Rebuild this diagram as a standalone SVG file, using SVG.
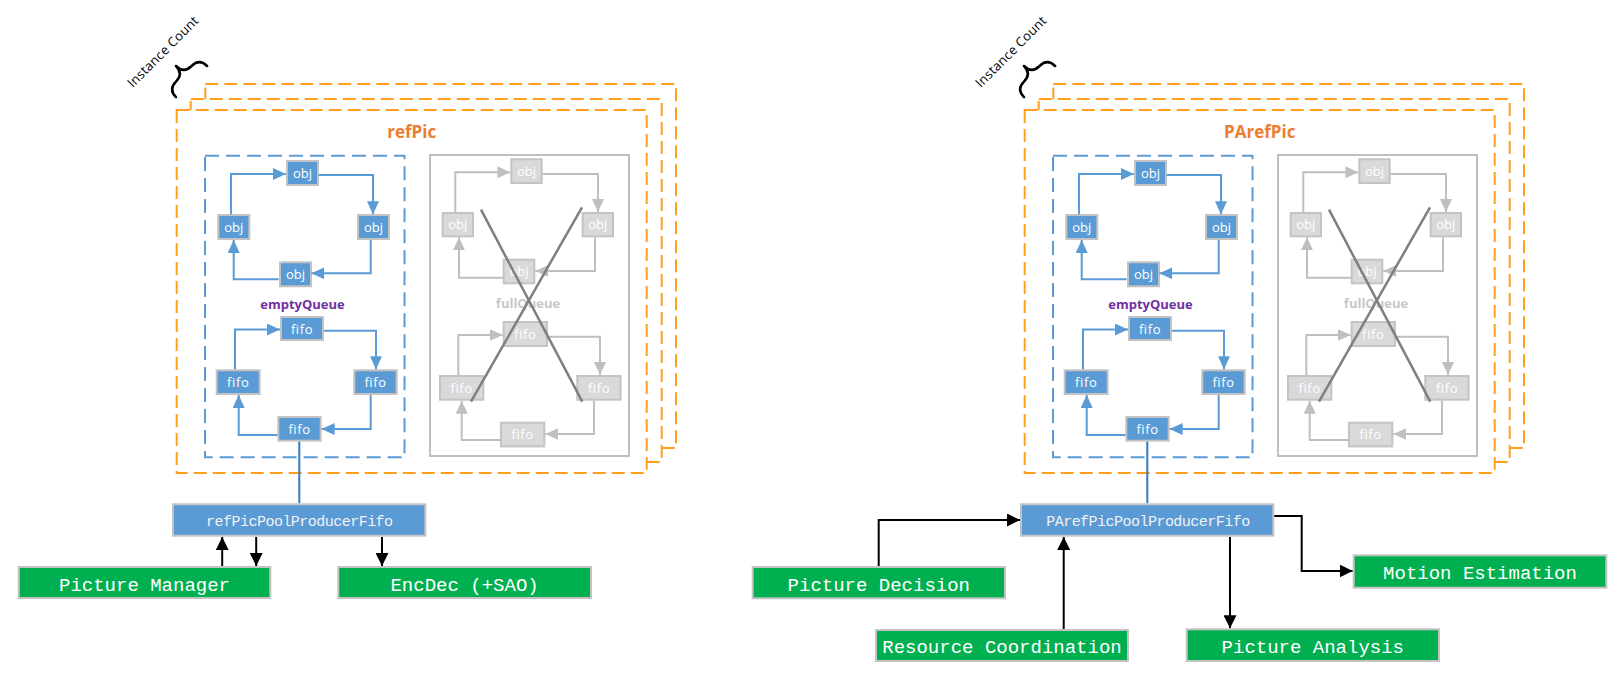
<svg xmlns="http://www.w3.org/2000/svg" width="1619" height="674" viewBox="0 0 1619 674">
<style>
.inst{fill:#fff;stroke:#FF9F1C;stroke-width:2;stroke-dasharray:13 6}
.eq{fill:none;stroke:#5B9BD5;stroke-width:2;stroke-dasharray:14 7}
.fq{fill:none;stroke:#BFBFBF;stroke-width:2}
.bn{fill:#5B9BD5;stroke:#C3C3C3;stroke-width:2}
.gn{fill:#D9D9D9;stroke:#C3C3C3;stroke-width:2}
.nt{font-family:"Open Sans","Noto Sans",sans-serif;font-size:13px;fill:#fff;text-anchor:middle}
.bc{fill:none;stroke:#5B9BD5;stroke-width:2;marker-end:url(#ab)}
.gc{fill:none;stroke:#BFBFBF;stroke-width:2;marker-end:url(#ag)}
.kc{fill:none;stroke:#000;stroke-width:2;marker-end:url(#ak)}
.xl{stroke:#7F7F7F;stroke-width:2.5}
.ttl{font-family:"Open Sans","Noto Sans",sans-serif;font-size:17px;font-weight:bold;fill:#ED7D31;text-anchor:middle}
.ql{font-family:"Open Sans","Noto Sans",sans-serif;font-size:13px;font-weight:bold;text-anchor:middle}
.green{fill:#00B050;stroke:#C3C3C3;stroke-width:2}
.gt{font-family:"Liberation Mono","DejaVu Sans Mono",monospace;font-size:19px;fill:#fff;text-anchor:middle}
.prod{fill:#5B9BD5;stroke:#C3C3C3;stroke-width:2}
.pt{font-family:"Liberation Mono","DejaVu Sans Mono",monospace;font-size:15px;fill:#F2F2F2;text-anchor:middle}
.ic{font-family:"Open Sans","Noto Sans",sans-serif;font-size:13px;fill:#000;text-anchor:middle;dominant-baseline:central}
.brace{fill:none;stroke:#000;stroke-width:2.5;stroke-linecap:round;stroke-linejoin:round}
.link{stroke:#2F7BC6;stroke-width:2}
</style>
<defs>
<marker id="ab" markerUnits="userSpaceOnUse" markerWidth="13" markerHeight="12" refX="13" refY="6" orient="auto" viewBox="0 0 13 12"><path d="M0,0 L13,6 L0,12 z" fill="#5B9BD5"/></marker>
<marker id="ag" markerUnits="userSpaceOnUse" markerWidth="13" markerHeight="12" refX="13" refY="6" orient="auto" viewBox="0 0 13 12"><path d="M0,0 L13,6 L0,12 z" fill="#BFBFBF"/></marker>
<marker id="ak" markerUnits="userSpaceOnUse" markerWidth="13" markerHeight="13" refX="13" refY="6.5" orient="auto" viewBox="0 0 13 13"><path d="M0,0 L13,6.5 L0,13 z" fill="#000"/></marker>
<path id="brace-shape" d="M22,-22 Q11,-22 11,-11 Q11,0 0,0 Q11,0 11,11 Q11,22 22,22"/>
</defs>

<g id="refpic-panel">
  <g id="refpic-instances">
    <rect class="inst" x="205.3" y="84" width="470.7" height="364"/>
    <rect class="inst" x="190.7" y="99" width="471" height="363"/>
    <rect class="inst" x="176.7" y="110" width="470" height="363"/>
  </g>
  <text class="ttl" x="411.7" y="138">refPic</text>
  <g id="refpic-instance-count">
    <use href="#brace-shape" class="brace" transform="translate(176,66) rotate(45)"/>
    <text class="ic" x="162.5" y="51.4" transform="rotate(-45 162.5 51.4)" textLength="94">Instance Count</text>
  </g>

  <g id="refpic-emptyQueue">
    <rect class="eq" x="205" y="155.7" width="199.5" height="301.6"/>
    <text class="ql" x="302.5" y="309" fill="#7030A0">emptyQueue</text>
    <g id="refpic-eq-obj1"><rect class="bn" x="287" y="161" width="31" height="24"/><text class="nt" x="302.5" y="177.5">obj</text></g>
    <g id="refpic-eq-obj2"><rect class="bn" x="358" y="215" width="31" height="24"/><text class="nt" x="373.5" y="231.5">obj</text></g>
    <g id="refpic-eq-obj3"><rect class="bn" x="280" y="262.3" width="31" height="24"/><text class="nt" x="295.5" y="278.8">obj</text></g>
    <g id="refpic-eq-obj4"><rect class="bn" x="218.3" y="215" width="31" height="24"/><text class="nt" x="233.8" y="231.5">obj</text></g>
    <g id="refpic-eq-fifo1"><rect class="bn" x="281" y="317" width="42" height="23"/><text class="nt" x="302" y="333.5" letter-spacing="0.6">fifo</text></g>
    <g id="refpic-eq-fifo2"><rect class="bn" x="354.3" y="370.3" width="42.4" height="23.7"/><text class="nt" x="375.5" y="387" letter-spacing="0.6">fifo</text></g>
    <g id="refpic-eq-fifo3"><rect class="bn" x="278.3" y="417" width="42.4" height="23.7"/><text class="nt" x="299.5" y="433.7" letter-spacing="0.6">fifo</text></g>
    <g id="refpic-eq-fifo4"><rect class="bn" x="216.7" y="370.3" width="43" height="23.7"/><text class="nt" x="238.2" y="387" letter-spacing="0.6">fifo</text></g>
  </g>

  <g id="refpic-fullQueue">
    <rect class="fq" x="430" y="155" width="199" height="301"/>
    <text class="ql" x="528" y="307.7" fill="#C8C8C8">fullQueue</text>
    <g id="refpic-fq-obj1"><rect class="gn" x="511.3" y="159.3" width="30.4" height="23.7"/><text class="nt" x="526.5" y="175.6">obj</text></g>
    <g id="refpic-fq-obj2"><rect class="gn" x="582.7" y="213" width="30.3" height="23.3"/><text class="nt" x="597.8" y="229.3">obj</text></g>
    <g id="refpic-fq-obj3"><rect class="gn" x="503.7" y="259.7" width="30.6" height="23.6"/><text class="nt" x="519" y="276">obj</text></g>
    <g id="refpic-fq-obj4"><rect class="gn" x="442.7" y="213" width="30.3" height="23.3"/><text class="nt" x="457.8" y="229.3">obj</text></g>
    <g id="refpic-fq-fifo1"><rect class="gn" x="503.7" y="322" width="43.3" height="24"/><text class="nt" x="525.3" y="338.7" letter-spacing="0.6">fifo</text></g>
    <g id="refpic-fq-fifo2"><rect class="gn" x="577.3" y="376" width="43.3" height="23.7"/><text class="nt" x="599" y="392.6" letter-spacing="0.6">fifo</text></g>
    <g id="refpic-fq-fifo3"><rect class="gn" x="501" y="422.7" width="43.3" height="23.7"/><text class="nt" x="522.6" y="439.3" letter-spacing="0.6">fifo</text></g>
    <g id="refpic-fq-fifo4"><rect class="gn" x="440" y="376" width="43.3" height="23.7"/><text class="nt" x="461.6" y="392.6" letter-spacing="0.6">fifo</text></g>
  </g>

  <g id="refpic-connectors">
    <path class="bc" d="M231,214.3 V174 H286"/>
    <path class="bc" d="M318.7,175 H373 V214.3"/>
    <path class="bc" d="M370.7,240 V273.3 H311.3"/>
    <path class="bc" d="M278.7,279.3 H233.7 V240"/>
    <path class="bc" d="M235,369.3 V329.5 H280"/>
    <path class="bc" d="M324,330.7 H376 V369.3"/>
    <path class="bc" d="M370.7,395 V429 H321.7"/>
    <path class="bc" d="M277.3,435 H238.7 V395"/>
    <path class="gc" d="M455.3,212 V172.3 H510.3"/>
    <path class="gc" d="M542.7,174 H598 V212"/>
    <path class="gc" d="M595,237.3 V271 H535.3"/>
    <path class="gc" d="M502.7,277.7 H459 V237.3"/>
    <path class="gc" d="M458.3,375 V335 H502.7"/>
    <path class="gc" d="M548,336.7 H600 V375"/>
    <path class="gc" d="M594,400.7 V434 H545.3"/>
    <path class="gc" d="M500,440 H461.7 V400.7"/>
    <line class="xl" x1="471" y1="401.7" x2="582" y2="207.3"/>
    <line class="xl" x1="481" y1="209.7" x2="582.3" y2="401.7"/>
  </g>
</g>

<g id="arefpic-panel" transform="translate(848,0)">
  <g id="arefpic-instances">
    <rect class="inst" x="205.3" y="84" width="470.7" height="364"/>
    <rect class="inst" x="190.7" y="99" width="471" height="363"/>
    <rect class="inst" x="176.7" y="110" width="470" height="363"/>
  </g>
  <text class="ttl" x="411.7" y="138">PArefPic</text>
  <g id="arefpic-instance-count">
    <use href="#brace-shape" class="brace" transform="translate(176,66) rotate(45)"/>
    <text class="ic" x="162.5" y="51.4" transform="rotate(-45 162.5 51.4)" textLength="94">Instance Count</text>
  </g>

  <g id="arefpic-emptyQueue">
    <rect class="eq" x="205" y="155.7" width="199.5" height="301.6"/>
    <text class="ql" x="302.5" y="309" fill="#7030A0">emptyQueue</text>
    <g id="arefpic-eq-obj1"><rect class="bn" x="287" y="161" width="31" height="24"/><text class="nt" x="302.5" y="177.5">obj</text></g>
    <g id="arefpic-eq-obj2"><rect class="bn" x="358" y="215" width="31" height="24"/><text class="nt" x="373.5" y="231.5">obj</text></g>
    <g id="arefpic-eq-obj3"><rect class="bn" x="280" y="262.3" width="31" height="24"/><text class="nt" x="295.5" y="278.8">obj</text></g>
    <g id="arefpic-eq-obj4"><rect class="bn" x="218.3" y="215" width="31" height="24"/><text class="nt" x="233.8" y="231.5">obj</text></g>
    <g id="arefpic-eq-fifo1"><rect class="bn" x="281" y="317" width="42" height="23"/><text class="nt" x="302" y="333.5" letter-spacing="0.6">fifo</text></g>
    <g id="arefpic-eq-fifo2"><rect class="bn" x="354.3" y="370.3" width="42.4" height="23.7"/><text class="nt" x="375.5" y="387" letter-spacing="0.6">fifo</text></g>
    <g id="arefpic-eq-fifo3"><rect class="bn" x="278.3" y="417" width="42.4" height="23.7"/><text class="nt" x="299.5" y="433.7" letter-spacing="0.6">fifo</text></g>
    <g id="arefpic-eq-fifo4"><rect class="bn" x="216.7" y="370.3" width="43" height="23.7"/><text class="nt" x="238.2" y="387" letter-spacing="0.6">fifo</text></g>
  </g>

  <g id="arefpic-fullQueue">
    <rect class="fq" x="430" y="155" width="199" height="301"/>
    <text class="ql" x="528" y="307.7" fill="#C8C8C8">fullQueue</text>
    <g id="arefpic-fq-obj1"><rect class="gn" x="511.3" y="159.3" width="30.4" height="23.7"/><text class="nt" x="526.5" y="175.6">obj</text></g>
    <g id="arefpic-fq-obj2"><rect class="gn" x="582.7" y="213" width="30.3" height="23.3"/><text class="nt" x="597.8" y="229.3">obj</text></g>
    <g id="arefpic-fq-obj3"><rect class="gn" x="503.7" y="259.7" width="30.6" height="23.6"/><text class="nt" x="519" y="276">obj</text></g>
    <g id="arefpic-fq-obj4"><rect class="gn" x="442.7" y="213" width="30.3" height="23.3"/><text class="nt" x="457.8" y="229.3">obj</text></g>
    <g id="arefpic-fq-fifo1"><rect class="gn" x="503.7" y="322" width="43.3" height="24"/><text class="nt" x="525.3" y="338.7" letter-spacing="0.6">fifo</text></g>
    <g id="arefpic-fq-fifo2"><rect class="gn" x="577.3" y="376" width="43.3" height="23.7"/><text class="nt" x="599" y="392.6" letter-spacing="0.6">fifo</text></g>
    <g id="arefpic-fq-fifo3"><rect class="gn" x="501" y="422.7" width="43.3" height="23.7"/><text class="nt" x="522.6" y="439.3" letter-spacing="0.6">fifo</text></g>
    <g id="arefpic-fq-fifo4"><rect class="gn" x="440" y="376" width="43.3" height="23.7"/><text class="nt" x="461.6" y="392.6" letter-spacing="0.6">fifo</text></g>
  </g>

  <g id="arefpic-connectors">
    <path class="bc" d="M231,214.3 V174 H286"/>
    <path class="bc" d="M318.7,175 H373 V214.3"/>
    <path class="bc" d="M370.7,240 V273.3 H311.3"/>
    <path class="bc" d="M278.7,279.3 H233.7 V240"/>
    <path class="bc" d="M235,369.3 V329.5 H280"/>
    <path class="bc" d="M324,330.7 H376 V369.3"/>
    <path class="bc" d="M370.7,395 V429 H321.7"/>
    <path class="bc" d="M277.3,435 H238.7 V395"/>
    <path class="gc" d="M455.3,212 V172.3 H510.3"/>
    <path class="gc" d="M542.7,174 H598 V212"/>
    <path class="gc" d="M595,237.3 V271 H535.3"/>
    <path class="gc" d="M502.7,277.7 H459 V237.3"/>
    <path class="gc" d="M458.3,375 V335 H502.7"/>
    <path class="gc" d="M548,336.7 H600 V375"/>
    <path class="gc" d="M594,400.7 V434 H545.3"/>
    <path class="gc" d="M500,440 H461.7 V400.7"/>
    <line class="xl" x1="471" y1="401.7" x2="582" y2="207.3"/>
    <line class="xl" x1="481" y1="209.7" x2="582.3" y2="401.7"/>
  </g>
</g>

<g id="producer-connectors">
  <line class="link" x1="299.3" y1="441.7" x2="299.3" y2="503.3"/>
  <line class="link" x1="1147.3" y1="441.7" x2="1147.3" y2="503.3"/>
  <path class="kc" d="M222.2,566 V537"/>
  <path class="kc" d="M256.2,537 V566"/>
  <path class="kc" d="M382,537 V566"/>
  <path class="kc" d="M878.7,566 V520 H1020"/>
  <path class="kc" d="M1063.7,629 V537"/>
  <path class="kc" d="M1274,516 H1301.7 V571 H1352.7"/>
  <path class="kc" d="M1230,537 V628.3"/>
</g>

<g id="refPicPoolProducerFifo"><rect class="prod" x="173" y="504.3" width="252.3" height="31.4"/><text class="pt" x="299.6" y="525.5" textLength="187">refPicPoolProducerFifo</text></g>
<g id="PArefPicPoolProducerFifo"><rect class="prod" x="1021" y="504.3" width="252.3" height="31.4"/><text class="pt" x="1148.2" y="525.5" textLength="204">PArefPicPoolProducerFifo</text></g>

<g id="picture-manager"><rect class="green" x="18.8" y="567" width="251.5" height="31"/><text class="gt" x="144.5" y="590.5">Picture Manager</text></g>
<g id="encdec"><rect class="green" x="338.3" y="567" width="252.7" height="31"/><text class="gt" x="464.6" y="590.5">EncDec (+SAO)</text></g>
<g id="picture-decision"><rect class="green" x="752.7" y="567" width="252.3" height="31.3"/><text class="gt" x="878.8" y="590.5">Picture Decision</text></g>
<g id="resource-coordination"><rect class="green" x="876" y="630" width="252" height="31"/><text class="gt" x="1002" y="653.3">Resource Coordination</text></g>
<g id="picture-analysis"><rect class="green" x="1186.7" y="629.3" width="252.3" height="31.7"/><text class="gt" x="1312.8" y="653">Picture Analysis</text></g>
<g id="motion-estimation"><rect class="green" x="1353.7" y="555.3" width="252.6" height="32.4"/><text class="gt" x="1480" y="579">Motion Estimation</text></g>
</svg>
